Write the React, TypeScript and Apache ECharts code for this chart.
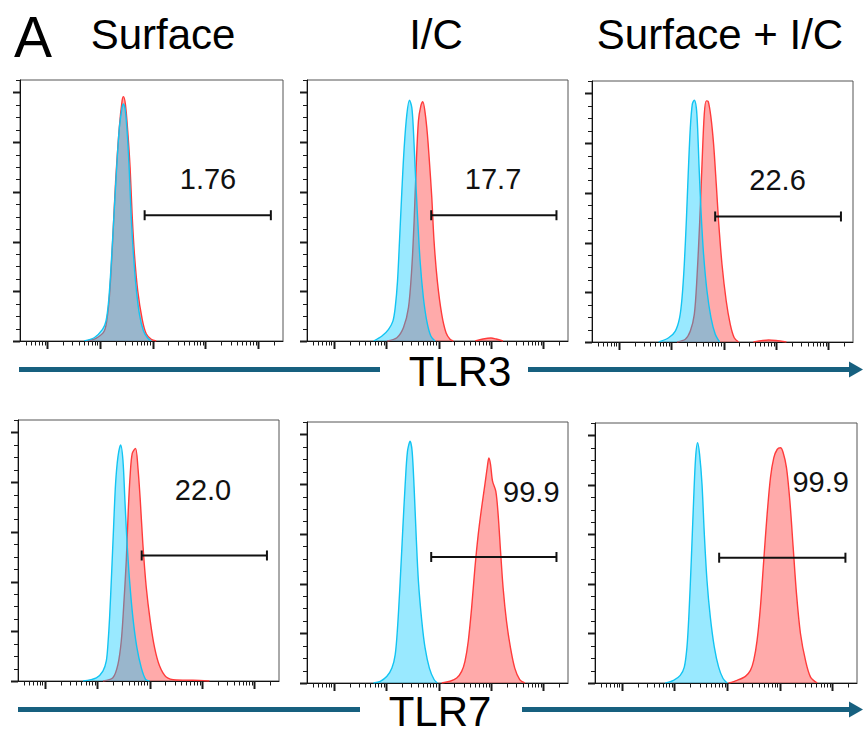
import React, { useEffect, useRef } from 'react';
import * as echarts from 'echarts';

const FONT = '"Liberation Sans", Arial, Helvetica, sans-serif';

// Texts
const panelLetter = 'A';
const columnTitles = ['Surface', 'I/C', 'Surface + I/C'];
const rowMarkers = ['TLR3', 'TLR7'];

// Histograms: [log10 fluorescence (decades from first major tick), % of max]
const r1p1Blue = [[0.705,0],[0.895,1.3],[1.053,4.7],[1.118,8],[1.168,16],[1.213,29.5],[1.263,48.3],[1.32,69.7],[1.371,85.8],[1.423,93.9],[1.448,95.4],[1.486,92.5],[1.53,80.5],[1.562,67],[1.594,51],[1.638,34.9],[1.69,21.4],[1.752,10.7],[1.829,4],[1.91,1.1],[1.975,0]];
const r1p1Red = [[0.737,0],[0.928,1.1],[1.086,4],[1.149,10.7],[1.194,21],[1.244,40],[1.3,64],[1.371,86],[1.423,96.6],[1.448,98.3],[1.486,95.2],[1.53,84.5],[1.575,69.7],[1.613,51],[1.657,34.9],[1.72,20.1],[1.804,8.7],[1.88,2.9],[1.975,0.7],[2.07,0]];

const r1p2Blue = [[0.76,0],[0.92,2],[1.046,4.7],[1.129,8],[1.173,13.4],[1.217,24.1],[1.255,40.2],[1.3,60.4],[1.344,77.8],[1.395,91.2],[1.445,96.9],[1.49,93.9],[1.521,84.5],[1.553,69.7],[1.597,51],[1.648,32.2],[1.711,17.4],[1.776,8],[1.852,2],[1.933,0]];
const r1p2Red = [[1.015,0],[1.205,1.3],[1.331,5.4],[1.426,13.4],[1.49,29.5],[1.534,48.3],[1.572,69.7],[1.616,88.5],[1.662,94.6],[1.7,96.3],[1.743,91.9],[1.787,83.2],[1.825,72.4],[1.871,57.7],[1.914,40.2],[1.977,24.1],[2.061,10.7],[2.143,3.3],[2.219,0.7],[2.281,0],[2.5,'-'],[2.7,0],[2.85,0.8],[3.0,1.2],[3.1,0.8],[3.23,0]];

const r1p3Blue = [[0.762,0],[0.952,1.7],[1.08,4.4],[1.162,9.8],[1.208,17.8],[1.251,31.3],[1.29,48.7],[1.328,68.8],[1.366,86.2],[1.404,95.7],[1.442,97.3],[1.48,94.3],[1.505,86.2],[1.531,71.5],[1.57,52.7],[1.619,35.3],[1.684,20.5],[1.76,9.8],[1.842,3.1],[1.924,0]];
const r1p3Red = [[1.112,0],[1.27,1.1],[1.366,4.4],[1.442,11.1],[1.493,25.9],[1.543,47.4],[1.589,71.5],[1.632,91.6],[1.67,97],[1.709,96.7],[1.76,90.3],[1.81,79.6],[1.861,63.5],[1.905,48.7],[1.97,31.3],[2.051,16.5],[2.128,7.1],[2.204,1.7],[2.286,0],[2.45,'-'],[2.57,0],[2.75,0.6],[2.86,0.8],[3.0,0.6],[3.2,0]];

const r2p1Blue = [[0.73,0],[0.985,1.3],[1.11,4],[1.175,8.1],[1.206,14.8],[1.238,25.6],[1.276,43.1],[1.314,61.9],[1.352,79.5],[1.397,90.2],[1.448,95],[1.492,88.9],[1.53,72.7],[1.568,56.6],[1.619,40.4],[1.682,25.6],[1.758,13.5],[1.842,5.4],[1.924,0.7],[2.0,0]];
const r2p1Red = [[1.11,0],[1.3,1.3],[1.397,6.7],[1.461,16.2],[1.505,29.6],[1.556,48.5],[1.594,68.7],[1.632,83.5],[1.67,91.6],[1.733,93.6],[1.777,86.2],[1.823,72.7],[1.872,55.2],[1.937,37.7],[2.013,24.2],[2.095,13.5],[2.19,6.1],[2.318,1.6],[2.509,0.4],[2.825,0.3],[3.143,0]];

const r2p2Blue = [[0.76,0],[0.888,0.7],[1.015,2.7],[1.11,6],[1.173,11.4],[1.217,22.1],[1.268,40.9],[1.319,62.4],[1.363,79.8],[1.407,93.2],[1.458,97.3],[1.496,93.2],[1.534,78.5],[1.572,59.7],[1.616,40.9],[1.681,24.8],[1.743,14.1],[1.825,6],[1.914,1.4],[1.977,0]];
const r2p2Red = [[2.061,0],[2.219,0.7],[2.346,2],[2.441,4.7],[2.504,8.7],[2.567,16.8],[2.631,30.2],[2.694,46.3],[2.757,59.7],[2.821,70.4],[2.884,79.8],[2.928,86.5],[2.96,90.5],[2.992,87.9],[3.03,81.2],[3.093,77.1],[3.137,67.8],[3.183,53],[3.232,38.2],[3.297,24.8],[3.373,14.1],[3.454,6],[3.549,1.4],[3.645,0]];

const r2p3Blue = [[0.825,0],[0.983,1.1],[1.11,3.1],[1.187,6.4],[1.238,14.5],[1.276,27.9],[1.32,49.4],[1.364,73.5],[1.402,90.9],[1.44,97],[1.478,92.3],[1.524,80.2],[1.568,60.1],[1.619,41.3],[1.682,26.6],[1.758,14.5],[1.84,6.4],[1.924,1.8],[2.0,0]];
const r2p3Red = [[2.03,0],[2.19,1.1],[2.349,2.7],[2.444,5.1],[2.507,9.1],[2.571,17.2],[2.634,30.6],[2.697,49.4],[2.762,68.2],[2.825,82.9],[2.888,90.9],[2.952,94.3],[3.015,95],[3.067,93],[3.13,86.9],[3.194,73.5],[3.257,54.7],[3.32,36],[3.396,19.9],[3.491,9.1],[3.587,2.4],[3.714,0]];

const blueSeries = [r1p1Blue, r1p2Blue, r1p3Blue, r2p1Blue, r2p2Blue, r2p3Blue];
const redSeries = [r1p1Red, r1p2Red, r1p3Red, r2p1Red, r2p2Red, r2p3Red];

// Gates
const gateLabels = ['1.76', '17.7', '22.6', '22.0', '99.9', '99.9'];
const gateStart = [1.85, 1.86, 1.84, 1.85, 1.86, 1.85];
const gateEnd = [4.24, 4.25, 4.24, 4.24, 4.25, 4.25];
const gateLevel = [50.6, 50.6, 50.5, 50.5, 50.7, 50.6];
const gateLabelX = [3.05, 3.04, 3.03, 3.02, 3.77, 3.78];
const gateLabelY = [65, 65, 65, 77, 77, 81];

// Axis ticks
const XMIN = -0.51;
const XMAX = 4.47;
const YMIN = 0;
const YMAX = 105;
const majorDecades = [0, 1, 2, 3, 4];
const minorMultipliers = [2, 3, 4, 5, 6, 7, 8, 9];
const yMajorTicks = [0, 20, 40, 60, 80, 100];
const yMinorTicks = [5, 10, 15, 25, 30, 35, 45, 50, 55, 65, 70, 75, 85, 90, 95, 105];

// Layout (pixels)
const grids = [
  { left: 20, top: 80, width: 263, height: 261 },
  { left: 307, top: 80, width: 261, height: 261 },
  { left: 592, top: 81, width: 261, height: 261 },
  { left: 18, top: 420, width: 261, height: 261 },
  { left: 307, top: 422, width: 261, height: 261 },
  { left: 595, top: 423, width: 262, height: 260 },
];

const RED_LINE = '#ff3b3b';
const RED_FILL = 'rgba(255,43,43,0.4)';
const BLUE_LINE = '#12c4f2';
const BLUE_FILL = 'rgba(0,200,255,0.4)';
const ARROW = '#17607f';
const TICK = '#1a1a1a';

function buildXTicks() {
  const out: number[][] = [];
  majorDecades.forEach((d) => out.push([d, 0, 1]));
  [-1, ...majorDecades].forEach((d) =>
    minorMultipliers.forEach((m) => {
      const v = d + Math.log10(m);
      if (v >= XMIN && v <= XMAX) out.push([v, 0, 0]);
    })
  );
  return out;
}

function buildYTicks() {
  const out: number[][] = [];
  yMajorTicks.forEach((v) => out.push([XMIN, v, 1]));
  yMinorTicks.forEach((v) => out.push([XMIN, v, 0]));
  return out;
}

function buildOption() {
  const xTicks = buildXTicks();
  const yTicks = buildYTicks();
  const series: any[] = [];
  grids.forEach((_, i) => {
    series.push({
      type: 'line', xAxisIndex: i, yAxisIndex: i, data: redSeries[i],
      showSymbol: false, symbol: 'none', smooth: 0.3, silent: true, z: 2,
      lineStyle: { color: RED_LINE, width: 1.4 },
      areaStyle: { color: RED_FILL, opacity: 1 },
    });
    series.push({
      type: 'line', xAxisIndex: i, yAxisIndex: i, data: blueSeries[i],
      showSymbol: false, symbol: 'none', smooth: 0.3, silent: true, z: 3,
      lineStyle: { color: BLUE_LINE, width: 1.4 },
      areaStyle: { color: BLUE_FILL, opacity: 1 },
    });
    series.push({
      type: 'custom', xAxisIndex: i, yAxisIndex: i, silent: true, z: 5, clip: false,
      data: [[gateStart[i], gateLevel[i], gateEnd[i], gateLabelX[i], gateLabelY[i]]],
      renderItem: (params: any, api: any) => {
        const a = api.coord([api.value(0), api.value(1)]);
        const b = api.coord([api.value(2), api.value(1)]);
        const t = api.coord([api.value(3), api.value(4)]);
        const st = { stroke: '#111', lineWidth: 2 };
        return {
          type: 'group',
          children: [
            { type: 'line', shape: { x1: a[0], y1: a[1], x2: b[0], y2: b[1] }, style: st },
            { type: 'line', shape: { x1: a[0], y1: a[1] - 5, x2: a[0], y2: a[1] + 5 }, style: st },
            { type: 'line', shape: { x1: b[0], y1: b[1] - 5, x2: b[0], y2: b[1] + 5 }, style: st },
            {
              type: 'text', x: t[0], y: t[1],
              style: {
                text: gateLabels[i], fontSize: 29, fontFamily: FONT, fill: '#111',
                align: 'center', verticalAlign: 'middle',
                textAlign: 'center', textVerticalAlign: 'middle',
              },
            },
          ],
        };
      },
    });
    series.push({
      type: 'custom', xAxisIndex: i, yAxisIndex: i, silent: true, z: 6, clip: false,
      data: xTicks,
      renderItem: (params: any, api: any) => {
        const major = api.value(2);
        const px = Math.round(api.coord([api.value(0), 0])[0]) + 0.5;
        const cs = params.coordSys;
        const py = cs.y + cs.height;
        return {
          type: 'line',
          shape: { x1: px, y1: py, x2: px, y2: py + (major ? 8 : 4.5) },
          style: { stroke: TICK, lineWidth: major ? 2 : 1 },
        };
      },
    });
    series.push({
      type: 'custom', xAxisIndex: i, yAxisIndex: i, silent: true, z: 6, clip: false,
      data: yTicks,
      renderItem: (params: any, api: any) => {
        const major = api.value(2);
        const py = Math.round(api.coord([XMIN, api.value(1)])[1]) + 0.5;
        const cs = params.coordSys;
        const px = cs.x;
        return {
          type: 'line',
          shape: { x1: px, y1: py, x2: px - (major ? 7 : 4), y2: py },
          style: { stroke: TICK, lineWidth: major ? 2 : 1 },
        };
      },
    });
  });

  const headerX = [163, 436, 720];
  const graphic: any[] = [
    {
      type: 'text', x: 14, y: 37,
      style: { text: panelLetter, fontSize: 57, fontFamily: FONT, fill: '#000', align: 'left', verticalAlign: 'middle' },
    },
    ...columnTitles.map((t, k) => ({
      type: 'text', x: headerX[k], y: 34,
      style: { text: t, fontSize: 42, fontFamily: FONT, fill: '#000', align: 'center', verticalAlign: 'middle' },
    })),
    // Row 1 arrow
    { type: 'rect', shape: { x: 19, y: 367, width: 361, height: 5 }, style: { fill: ARROW } },
    { type: 'rect', shape: { x: 528, y: 367, width: 323, height: 5 }, style: { fill: ARROW } },
    { type: 'polygon', shape: { points: [[849, 361.5], [863, 369.5], [849, 377.5]] }, style: { fill: ARROW } },
    {
      type: 'text', x: 460, y: 371,
      style: { text: rowMarkers[0], fontSize: 42, fontFamily: FONT, fill: '#000', align: 'center', verticalAlign: 'middle' },
    },
    // Row 2 arrow
    { type: 'rect', shape: { x: 18, y: 707, width: 342, height: 5 }, style: { fill: ARROW } },
    { type: 'rect', shape: { x: 522, y: 707, width: 329, height: 5 }, style: { fill: ARROW } },
    { type: 'polygon', shape: { points: [[849, 701.5], [863, 709.5], [849, 717.5]] }, style: { fill: ARROW } },
    {
      type: 'text', x: 440, y: 711,
      style: { text: rowMarkers[1], fontSize: 42, fontFamily: FONT, fill: '#000', align: 'center', verticalAlign: 'middle' },
    },
  ];

  return {
    animation: false,
    backgroundColor: '#fff',
    grid: grids.map((g) => ({ ...g, show: true, borderColor: '#555', borderWidth: 1, backgroundColor: 'transparent', containLabel: false })),
    xAxis: grids.map((_, i) => ({
      type: 'value', gridIndex: i, min: XMIN, max: XMAX,
      axisLine: { show: true, onZero: false, lineStyle: { color: '#111', width: 1 } },
      axisTick: { show: false }, axisLabel: { show: false }, splitLine: { show: false },
    })),
    yAxis: grids.map((_, i) => ({
      type: 'value', gridIndex: i, min: YMIN, max: YMAX,
      axisLine: { show: true, onZero: false, lineStyle: { color: '#111', width: 1 } },
      axisTick: { show: false }, axisLabel: { show: false }, splitLine: { show: false },
    })),
    series,
    graphic,
  };
}

export default function App() {
  const ref = useRef<HTMLDivElement>(null);
  useEffect(() => {
    if (!ref.current) return;
    const chart = echarts.init(ref.current, undefined, { renderer: 'svg' });
    chart.setOption(buildOption() as any);
    return () => chart.dispose();
  }, []);
  return (
    <div
      ref={ref}
      style={{ position: 'absolute', left: 0, top: 0, width: 863, height: 733, background: '#fff' }}
    />
  );
}
